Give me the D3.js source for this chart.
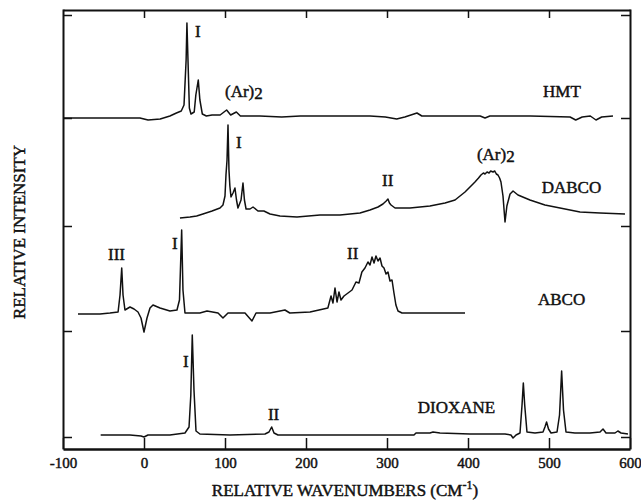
<!DOCTYPE html>
<html>
<head>
<meta charset="utf-8">
<script src="https://cdn.jsdelivr.net/npm/d3@7"></script>
<style>
body{margin:0;background:#fff;}
text{font-family:"Liberation Serif","Times New Roman",serif;fill:#111;stroke:#111;stroke-width:0.45px;}
</style>
</head>
<body>
<div id="chart"></div>
<script>
// spectra: [relative wavenumber, intensity above the trace baseline]
var hmt = [[-100,-1],[-54,-1],[-5,-1],[5,-3],[20,-2],[32,1],[40,4],[46,6],[49.4,12],[52,57],[53,94],[54.3,57],[56,9],[58,3],[62,5],[64,22],[67,37],[69,17],[72,3],[77,1],[84,2],[94,2],[102,7],[107,2],[114,5],[119,1],[143,1],[170,0],[193,1],[220,1],[242,1],[279,1],[298,0],[312,-2],[322,0],[337,4],[343,1],[378,1],[415,1],[421,-1],[427,1],[477,1],[526,0],[533,-3],[541,0],[551,1],[558,-3],[565,0],[579,1]];

var dabco = [[44.4,-2],[56.8,-1],[65,0],[72.8,2],[84,5],[93.8,8],[97.5,11],[100,20],[101.2,41],[102.5,56],[103.7,91],[104.9,46],[106,30],[107.4,19],[109.9,23],[112.3,28],[114.2,16],[116,8],[119.8,16],[122.2,33],[124,16],[126,7],[130.9,7],[134.6,9],[140.7,5],[148,5],[155.6,2],[167.9,0],[188.9,-1],[217.3,1],[242,1],[266.7,3],[279,6],[288.9,9],[295,12],[299,15],[301.2,17],[303,13],[305,11],[309.9,8],[328.4,8],[353,10],[371.6,13],[384,16],[396.3,24],[408.6,34],[413,38],[416,41],[419,43],[421,42],[423.5,44],[426,43],[428,45],[430.9,44],[433,45],[435,42],[437,41],[439,38],[440.7,34],[443.2,20],[445.7,-6],[448,10],[451.9,22],[455.6,25],[461.7,21],[476.5,16],[495,11],[513.6,8],[538.3,4],[563,3],[593.8,2]];

var abco = [[-81.5,-1],[-54.3,-1],[-42,0],[-32,1],[-29.6,18],[-27.5,45],[-25.9,18],[-23.5,3],[-17.3,6],[-12.3,4],[-7.4,1],[-3.7,-5],[0,-19],[3.7,-5],[7.4,5],[11.1,8],[19.8,5],[32,2],[40.7,3],[43.8,13],[46.5,83],[48.1,23],[50.6,0],[69,0],[77.8,2],[91.4,0],[97.5,-5],[103.7,0],[124.7,0],[133.3,-8],[138.3,0],[155.6,0],[174,3],[180,0],[205,1],[227,5],[230.9,17],[233.3,10],[235.8,25],[238.3,11],[240.7,21],[243.2,13],[246.9,17],[251.9,20],[256.8,23],[261.7,31],[265.4,30],[269,41],[272.8,45],[276.5,51],[279,48],[281.5,56],[284,50],[286.4,57],[288.9,52],[291.4,55],[293.8,47],[296.3,45],[298.8,39],[301.2,41],[303.7,32],[306.2,33],[308.6,20],[311,8],[313.6,2],[318.5,0],[353,0],[396.3,0]];

var dioxane = [[-53.5,0],[-17.3,0],[-3.7,-1],[0,-2],[4.9,0],[32,0],[50.6,2],[55.6,8],[57.8,40],[59.6,100],[61.7,45],[64.2,4],[69,1],[106,0],[149.4,1],[154.3,3],[157.6,8],[160.5,2],[165.4,0],[229.6,0],[291.4,0],[333.3,0],[335.8,2],[353,2],[356.8,3],[365.4,2],[402.5,1],[427,1],[445.7,1],[453,0],[455.6,-3],[459.3,0],[464.2,2],[466.7,30],[468.3,52],[470,30],[472.8,3],[482.7,2],[492.6,3],[495,8],[497,13],[499.4,6],[502.5,2],[509.9,3],[513,20],[515.6,64],[517.9,25],[521,3],[532,2],[550.6,2],[563,3],[566.7,6],[570.4,2],[581.5,2],[585,4],[588.9,2],[597.5,1]];

var series = [hmt, dabco, abco, dioxane];
var offsets = [332, 233, 136, 14];

var xTicks = [-100, 0, 100, 200, 300, 400, 500, 600];
var yTicks = [12, 118, 223, 331, 434];

// annotations: [text, wavenumber, height]
var labels = [
  ["I", 63, 412], ["(Ar)", 100, 352, "2"], ["HMT", 492.6, 352],
  ["I", 113.6, 301], ["(Ar)", 411, 289, "2"], ["II", 293.8, 263], ["DABCO", 491, 256],
  ["III", -44.4, 189], ["I", 34.6, 200], ["II", 250.6, 190], ["ABCO", 486.4, 144],
  ["I", 48, 82], ["II", 153, 29], ["DIOXANE", 338, 36]
];

var W = 641, H = 500;
var svg = d3.select("#chart").append("svg").attr("width", W).attr("height", H);

var x = d3.scaleLinear().domain([-100, 600]).range([63, 630]);
var y = d3.scaleLinear().domain([0, 440]).range([449, 9]);

var line = d3.line();

series.forEach(function (s, i) {
  svg.append("path")
    .datum(s)
    .attr("fill", "none")
    .attr("stroke", "#111")
    .attr("stroke-width", 1.5)
    .attr("stroke-linejoin", "round")
    .attr("d", line.x(function (d) { return x(d[0]); })
                   .y(function (d) { return y(d[1] + offsets[i]); }));
});

function styleAxis(g) {
  g.select(".domain").attr("stroke", "#111").attr("stroke-width", 2);
  g.selectAll(".tick line").attr("stroke", "#111").attr("stroke-width", 1.5);
}

svg.append("g")
  .attr("transform", "translate(0,449)")
  .call(d3.axisBottom(x).tickValues(xTicks).tickSizeInner(-11).tickSizeOuter(0).tickPadding(8)
    .tickFormat(function (d) { return String(d); }))
  .call(styleAxis)
  .call(function (g) {
    g.select(".domain").attr("stroke-width", 2.6);
    g.selectAll(".tick text").attr("font-size", 15).attr("font-family", "Liberation Serif").attr("fill", "#111");
  });

svg.append("g")
  .attr("transform", "translate(0,10)")
  .call(d3.axisTop(x).tickValues(xTicks.slice(1, -1)).tickSizeInner(-8).tickSizeOuter(0).tickFormat(""))
  .call(styleAxis);

svg.append("g")
  .attr("transform", "translate(63,0)")
  .call(d3.axisLeft(y).tickValues(yTicks).tickSizeInner(-9).tickSizeOuter(0).tickFormat(""))
  .call(styleAxis);

svg.append("g")
  .attr("transform", "translate(630,0)")
  .call(d3.axisRight(y).tickValues(yTicks).tickSizeInner(-9).tickSizeOuter(0).tickFormat(""))
  .call(styleAxis);

labels.forEach(function (l) {
  var t = svg.append("text")
    .attr("x", x(l[1]))
    .attr("y", y(l[2]))
    .attr("font-size", 17)
    .text(l[0]);
  if (l[3]) t.append("tspan").attr("dy", 2).text(l[3]);
});

var xt = svg.append("text")
  .attr("x", 345).attr("y", 496)
  .attr("text-anchor", "middle")
  .attr("font-size", 17)
  .text("RELATIVE WAVENUMBERS (CM");
xt.append("tspan").attr("dy", -7).attr("font-size", 12).text("-1");
xt.append("tspan").attr("dy", 7).text(")");

svg.append("text")
  .attr("transform", "translate(25,232) rotate(-90)")
  .attr("text-anchor", "middle")
  .attr("font-size", 17)
  .text("RELATIVE INTENSITY");
</script>
</body>
</html>
